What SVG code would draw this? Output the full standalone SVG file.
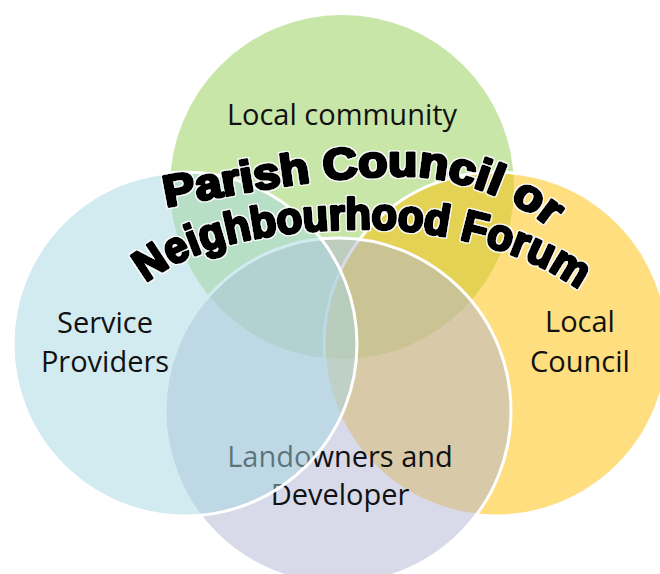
<svg xmlns="http://www.w3.org/2000/svg" width="660" height="574" viewBox="0 0 660 574">
<style>
.c{stroke:#fff;stroke-width:3;fill-opacity:.5}
.t{font-family:"Open Sans","Noto Sans",sans-serif;font-size:29px;fill:#111;text-anchor:middle}
.arch{font-family:"Liberation Sans",Arial,sans-serif;font-weight:bold;font-size:44px;fill:#000;stroke:#000;stroke-width:3.2;stroke-linejoin:round}
</style>
<defs>
<path id="arc1" d="M166 207 C246 192 325 176 402 176 C470 176 545 210 575 255"/>
<path id="arc2" d="M146 283 C195 243 280 229 370 229 C440 229 540 252 594 302"/>
<filter id="halo" x="-5%" y="-20%" width="110%" height="140%">
<feMorphology in="SourceAlpha" operator="dilate" radius="1" result="d"/>
<feFlood flood-color="#fff"/>
<feComposite in2="d" operator="in" result="w"/>
<feMerge><feMergeNode in="w"/><feMergeNode in="SourceGraphic"/></feMerge>
</filter>
</defs>
<rect width="660" height="574" fill="#fff"/>
<g id="local-community">
<circle class="c" cx="342" cy="187" r="172" fill="#91cd51" stroke-opacity="0"/>
<text class="t" x="342" y="125">Local community</text>
</g>
<g id="local-council">
<circle class="c" cx="496" cy="344" r="172" fill="#fdbd00"/>
<text class="t" x="580" y="332">Local</text>
<text class="t" x="580" y="372">Council</text>
</g>
<g id="landowners">
<circle class="c" cx="338" cy="411" r="173" fill="#b1b3d3"/>
<text class="t" x="340" y="467">Landowners and</text>
<text class="t" x="340" y="505">Developer</text>
</g>
<g id="service-providers">
<circle class="c" cx="185" cy="344" r="172" fill="#a5d7e3"/>
<text class="t" x="105" y="333">Service</text>
<text class="t" x="105" y="372">Providers</text>
</g>
<g id="title" filter="url(#halo)">
<text class="arch"><textPath href="#arc1" textLength="398" lengthAdjust="spacingAndGlyphs">Parish Council or</textPath></text>
<text class="arch"><textPath href="#arc2" textLength="455" lengthAdjust="spacingAndGlyphs">Neighbourhood Forum</textPath></text>
</g>
</svg>
